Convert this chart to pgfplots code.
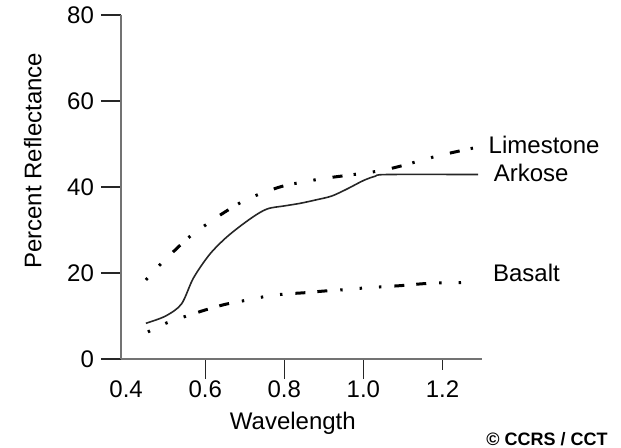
\documentclass[border=0pt]{standalone}
\usepackage{fontspec}
\setmainfont{Liberation Sans}
\usepackage{pgfplots}
\pgfplotsset{compat=1.18}

\begin{document}
\begin{tikzpicture}[font=\fontsize{12}{14}\selectfont]
\path[use as bounding box] (-60.5pt,-44.5pt) rectangle (250pt,179.5pt);
\begin{axis}[
  scale only axis, width=180.5pt, height=172pt,
  xmin=0.387, xmax=1.30, ymin=0, ymax=80,
  axis lines=left, axis line style={-, black!55, line width=1.3pt},
  tick align=outside, tick style={black!85, line width=0.7pt},
  major tick length=10pt,
  x tick style={shorten <=4.5pt},
  xtick={0.6,0.8,1.0,1.2},
  extra x ticks={0.4}, extra x tick style={tick style={draw=none}},
  ytick={0,20,40,60,80},
  xticklabel style={yshift=2.5pt, /pgf/number format/.cd, fixed, fixed zerofill, precision=1},
  extra x tick labels={0.4},
  /pgf/number format/assume math mode=true,
  xlabel={Wavelength},
  ylabel={Percent Reflectance},
  every axis x label/.style={at={(axis description cs:0.476,-0.206)}, anchor=base},
  every axis y label/.style={at={(axis description cs:-0.244,0.576)}, anchor=center, rotate=90},
  clip=false,
]
% Limestone
\addplot[black, line width=1.5pt, smooth,
  dash pattern=on 1.2pt off 8.5pt on 1.2pt off 8.5pt on 5pt off 5.6pt] coordinates {
  (0.45,18.4) (0.48,21.4) (0.52,25.0) (0.56,28.4) (0.60,31.1) (0.65,34.2)
  (0.70,36.9) (0.75,38.8) (0.80,40.3) (0.85,41.2) (0.90,42.0) (0.95,42.6)
  (1.00,43.2) (1.05,43.9) (1.10,45.0) (1.15,46.3) (1.20,47.5) (1.28,49.1)};
% Arkose
\addplot[black!85, line width=0.8pt, smooth, tension=0.5] coordinates {
  (0.45,8.3) (0.50,10.0) (0.54,12.8) (0.57,18.8) (0.61,24.2) (0.65,28.0)
  (0.69,31.0) (0.73,33.6) (0.76,35.0) (0.80,35.6) (0.84,36.2) (0.88,37.0)
  (0.92,37.9) (0.96,39.6) (1.00,41.5) (1.03,42.5) (1.06,42.9) (1.29,42.9)};
% Basalt
\addplot[black, line width=1.5pt, smooth,
  dash pattern=on 1.2pt off 8.5pt on 1.2pt off 8.5pt on 1.2pt off 6.5pt on 5pt off 6pt on 5pt off 6.5pt] coordinates {
  (0.455,6.3) (0.50,8.3) (0.55,9.9) (0.60,11.4) (0.65,12.7) (0.70,13.6)
  (0.75,14.5) (0.80,15.1) (0.85,15.4) (0.90,15.8) (0.95,16.1) (1.00,16.5)
  (1.05,16.8) (1.10,17.1) (1.15,17.5) (1.20,17.7) (1.275,17.8)};
\node[anchor=west, inner sep=0pt] at (axis cs:1.316,49.8) {Limestone};
\node[anchor=west, inner sep=0pt] at (axis cs:1.329,43.3) {Arkose};
\node[anchor=west, inner sep=0pt] at (axis cs:1.327,20.0) {Basalt};
\node[anchor=east, inner sep=0pt, font=\fontsize{9}{11}\selectfont\bfseries]
  at (axis description cs:1.349,-0.2326) {© CCRS / CCT};
\end{axis}
\end{tikzpicture}
\end{document}
